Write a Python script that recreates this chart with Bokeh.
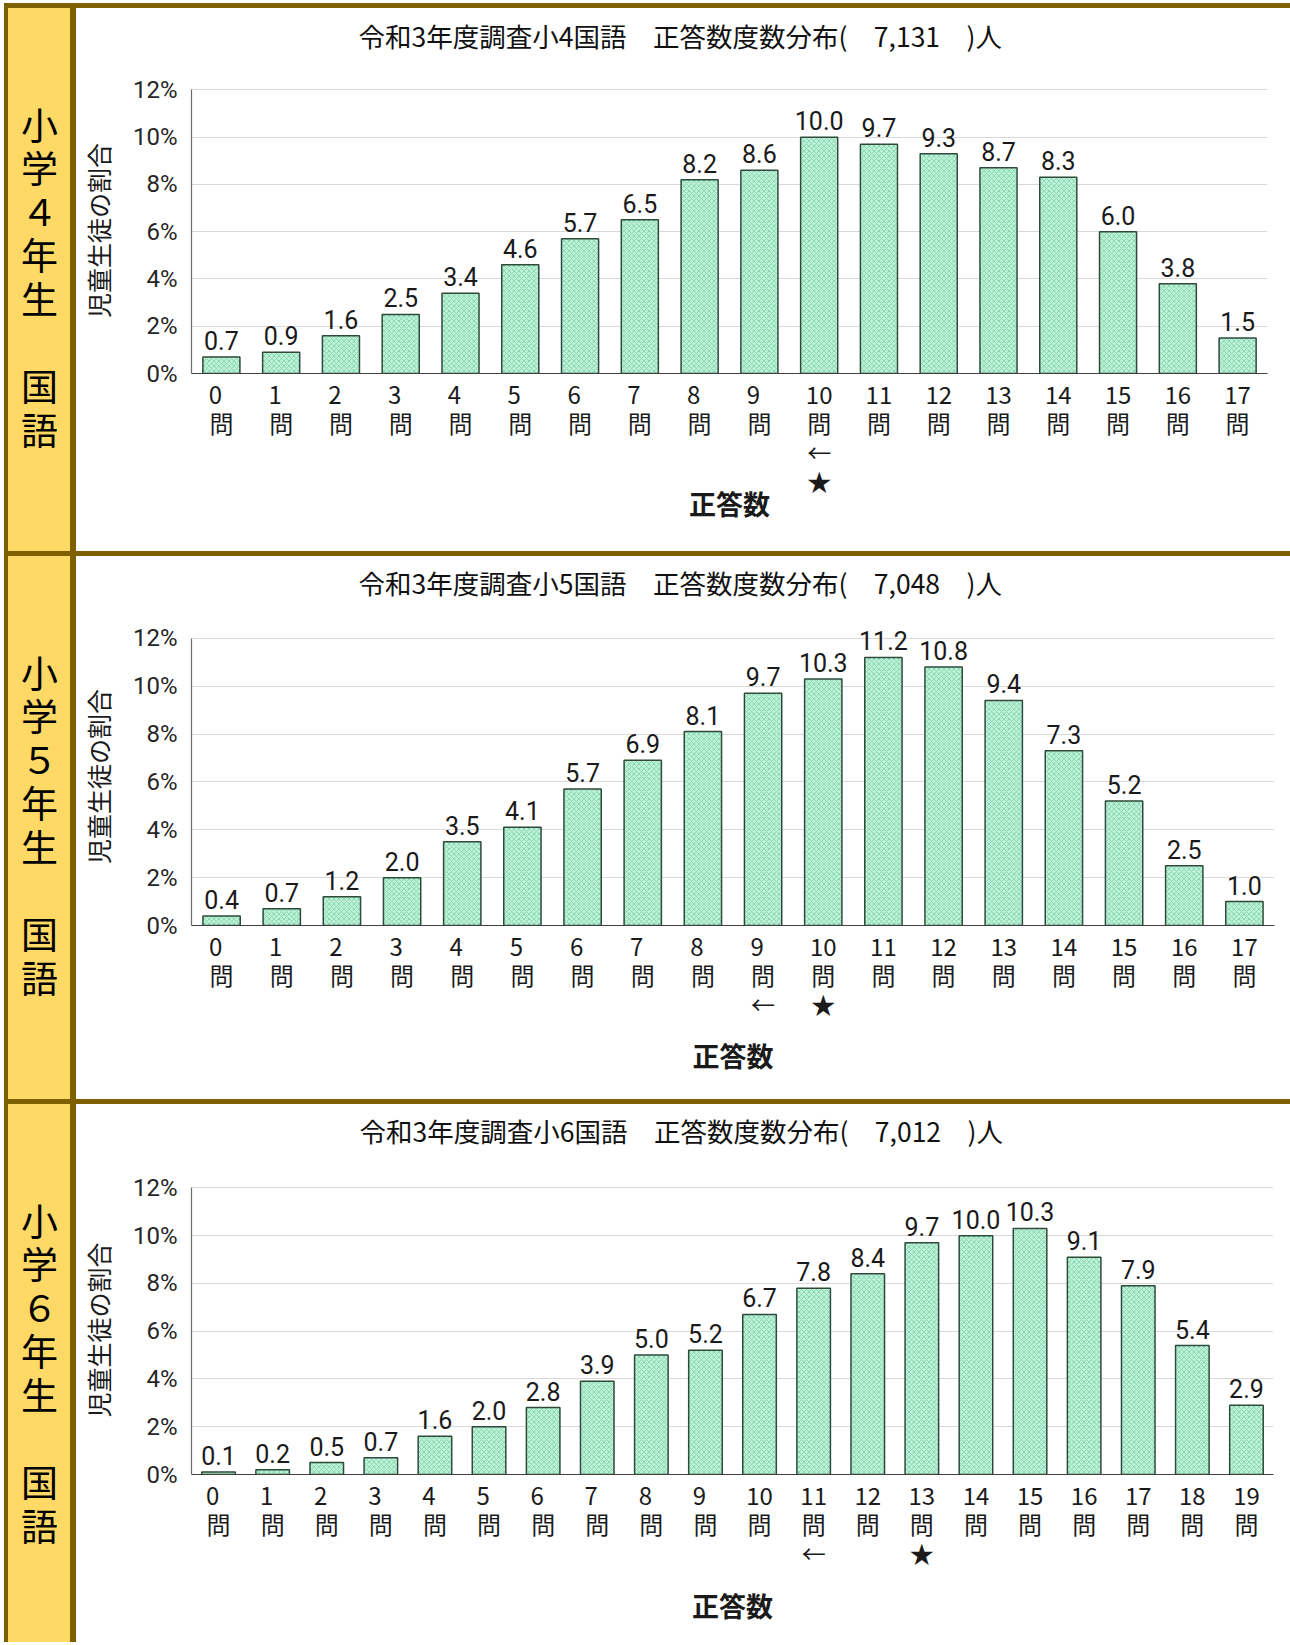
from bokeh.plotting import figure
from bokeh.layouts import row, column
from bokeh.models import ColumnDataSource, Range1d, FixedTicker, PrintfTickFormatter, Div, Title
from bokeh.core.properties import value
from bokeh.embed import file_html
from bokeh.resources import INLINE

# ---------------- data ----------------
grade_labels = ["小学４年生　国語", "小学５年生　国語", "小学６年生　国語"]
titles = [
    "令和3年度調査小4国語　正答数度数分布(　7,131　)人",
    "令和3年度調査小5国語　正答数度数分布(　7,048　)人",
    "令和3年度調査小6国語　正答数度数分布(　7,012　)人",
]
values_g4 = [0.7, 0.9, 1.6, 2.5, 3.4, 4.6, 5.7, 6.5, 8.2, 8.6, 10.0, 9.7, 9.3, 8.7, 8.3, 6.0, 3.8, 1.5]
values_g5 = [0.4, 0.7, 1.2, 2.0, 3.5, 4.1, 5.7, 6.9, 8.1, 9.7, 10.3, 11.2, 10.8, 9.4, 7.3, 5.2, 2.5, 1.0]
values_g6 = [0.1, 0.2, 0.5, 0.7, 1.6, 2.0, 2.8, 3.9, 5.0, 5.2, 6.7, 7.8, 8.4, 9.7, 10.0, 10.3, 9.1, 7.9, 5.4, 2.9]
arrow_pos = [10, 9, 11]   # ← marker under category
star_pos = [10, 10, 13]   # ★ marker under category
y_ticks = [0, 2, 4, 6, 8, 10, 12]
y_label = "児童生徒の割合"
x_label = "正答数"
unit = "問"

# ---------------- style ----------------
YELLOW = "#FFD966"
BROWN = "#7F6000"
BAR_FILL = "#BDF1D7"
BAR_HATCH = "#8CD9B4"
BAR_LINE = "#2E4A3A"
CJK = "Noto Sans CJK JP"
NUM = "Roboto"

# geometry per panel (page px): fig height, frame left/right, 12% row and 0% row,
# title centre row (panel-relative), top of value range
geoms = [
    dict(h=543, fl=191, fr=1267, y12=81, y0=365, ty=31, yend=12.1, xl_standoff=-17),
    dict(h=543, fl=191, fr=1274, y12=82, y0=369, ty=30, yend=12.45, xl_standoff=12),
    dict(h=538, fl=190, fr=1273, y12=83, y0=369.5, ty=30, yend=12.1, xl_standoff=13),
]
FIG_X = 76
FIG_W = 1214
LABEL_GAP_PX = 7
TITLE_SIZE = 26.5
TITLE_BOX_H = TITLE_SIZE * 1.448


def make_label_div(text, h):
    html = ('<div style="display:flex;justify-content:center;width:62px;height:%dpx;">'
            '<div style="writing-mode:vertical-rl;text-orientation:upright;'
            'font-family:\'Noto Sans CJK JP\';font-size:37px;line-height:1;'
            'letter-spacing:6.6px;padding-top:99px;color:#000;">%s</div></div>') % (h, text)
    return Div(text=html, width=62, height=h, margin=0,
               styles={"background-color": YELLOW})


def make_chart(vals, title, arrow, star, g):
    n = len(vals)
    cats = list(range(n))
    h = g["h"]
    px_per = (g["y0"] - g["y12"]) / 12.0
    frame_top = g["y0"] - g["yend"] * px_per
    p = figure(width=FIG_W, height=h, x_range=Range1d(-0.5, n - 0.5),
               y_range=Range1d(0, g["yend"]),
               output_backend="svg", toolbar_location=None, title=None,
               min_border_left=int(round(g["fl"] - FIG_X)),
               min_border_right=int(round(FIG_X + FIG_W - g["fr"])),
               min_border_top=int(round(frame_top)),
               min_border_bottom=int(round(h - g["y0"])))
    p.outline_line_color = None
    p.background_fill_color = "white"
    p.border_fill_color = "white"

    # spacer title (closest to the frame) then the real title above it
    text_top = g["ty"] - 20.5
    spacer_h = frame_top - text_top - TITLE_BOX_H - 3
    p.add_layout(Title(text=" ", text_font_size="2px", standoff=int(round(spacer_h))), "above")
    p.add_layout(Title(text=title, align="left", offset=358 - g["fl"], text_font=CJK,
                       text_font_size="%.1fpx" % TITLE_SIZE, text_font_style="normal",
                       text_color="#111111", vertical_align="top", standoff=0), "above")

    gap = LABEL_GAP_PX / px_per
    src = ColumnDataSource(dict(x=cats, top=vals, ly=[v + gap for v in vals],
                                label=[f"{v:.1f}" for v in vals]))
    p.vbar(x="x", top="top", width=0.62, source=src, fill_color=BAR_FILL,
           hatch_pattern="x", hatch_color=BAR_HATCH, hatch_scale=5, hatch_weight=1,
           line_color=BAR_LINE, line_width=1.5)
    p.text(x="x", y="ly", text="label", source=src, text_font=value(NUM),
           text_font_size="25px", text_color="#1a1a1a", text_align="center",
           text_baseline="bottom")

    # y axis
    p.yaxis.ticker = FixedTicker(ticks=y_ticks)
    p.yaxis.formatter = PrintfTickFormatter(format="%d%%")
    p.yaxis.bounds = (0, 12)
    p.yaxis.axis_line_color = "#6b6b6b"
    p.yaxis.axis_line_width = 1.2
    p.yaxis.major_tick_line_color = None
    p.yaxis.minor_tick_line_color = None
    p.yaxis.major_label_standoff = 8
    p.yaxis.major_label_text_font = NUM
    p.yaxis.major_label_text_font_size = "24px"
    p.yaxis.major_label_text_color = "#262626"
    p.yaxis.axis_label = y_label
    p.yaxis.axis_label_text_font = CJK
    p.yaxis.axis_label_text_font_size = "25px"
    p.yaxis.axis_label_text_font_style = "normal"
    p.yaxis.axis_label_text_color = "#1a1a1a"
    p.yaxis.axis_label_standoff = 14
    p.ygrid.ticker = FixedTicker(ticks=y_ticks)
    p.ygrid.grid_line_color = "#D9D9D9"
    p.ygrid.grid_line_width = 1
    p.xgrid.visible = False

    # x axis: "n / 問" labels plus the ← and ★ markers
    overrides = {}
    for i in cats:
        num = str(i) if i >= 10 else str(i) + "\u2002"
        lines = [num, unit]
        if i == arrow:
            lines.append("←")
        if i == star:
            lines.append("★")
        overrides[i] = "\n".join(lines)
    p.xaxis.ticker = FixedTicker(ticks=cats)
    p.xaxis.major_label_overrides = overrides
    p.xaxis.axis_line_color = "#404040"
    p.xaxis.axis_line_width = 1.2
    p.xaxis.major_tick_line_color = None
    p.xaxis.minor_tick_line_color = None
    p.xaxis.major_label_standoff = -4
    p.xaxis.major_label_text_font = CJK
    p.xaxis.major_label_text_font_size = "24px"
    p.xaxis.major_label_text_color = "#1a1a1a"
    p.xaxis.major_label_text_line_height = 0.83
    p.xaxis.axis_label = x_label
    p.xaxis.axis_label_text_font = CJK
    p.xaxis.axis_label_text_font_size = "27px"
    p.xaxis.axis_label_text_font_style = "bold"
    p.xaxis.axis_label_text_color = "#1a1a1a"
    p.xaxis.axis_label_standoff = g["xl_standoff"]
    return p


def bar(w, h):
    return Div(text="", width=w, height=h, margin=0, styles={"background-color": BROWN})


all_vals = [values_g4, values_g5, values_g6]
items = []
for k in range(3):
    g = geoms[k]
    lab = make_label_div(grade_labels[k], g["h"])
    ch = make_chart(all_vals[k], titles[k], arrow_pos[k], star_pos[k], g)
    items.append(row(lab, bar(6, g["h"]), ch, spacing=0, margin=0))
    if k < 2:
        items.append(bar(62 + 6 + FIG_W, 5))

body = column(*items, spacing=0, margin=0)
total_h = sum(g["h"] for g in geoms) + 10
layout = column(bar(4 + 62 + 6 + FIG_W, 5),
                row(bar(4, total_h), body, spacing=0, margin=0),
                spacing=0, margin=(3, 0, 0, 4))

open("out.html", "w").write(file_html(layout, INLINE))
